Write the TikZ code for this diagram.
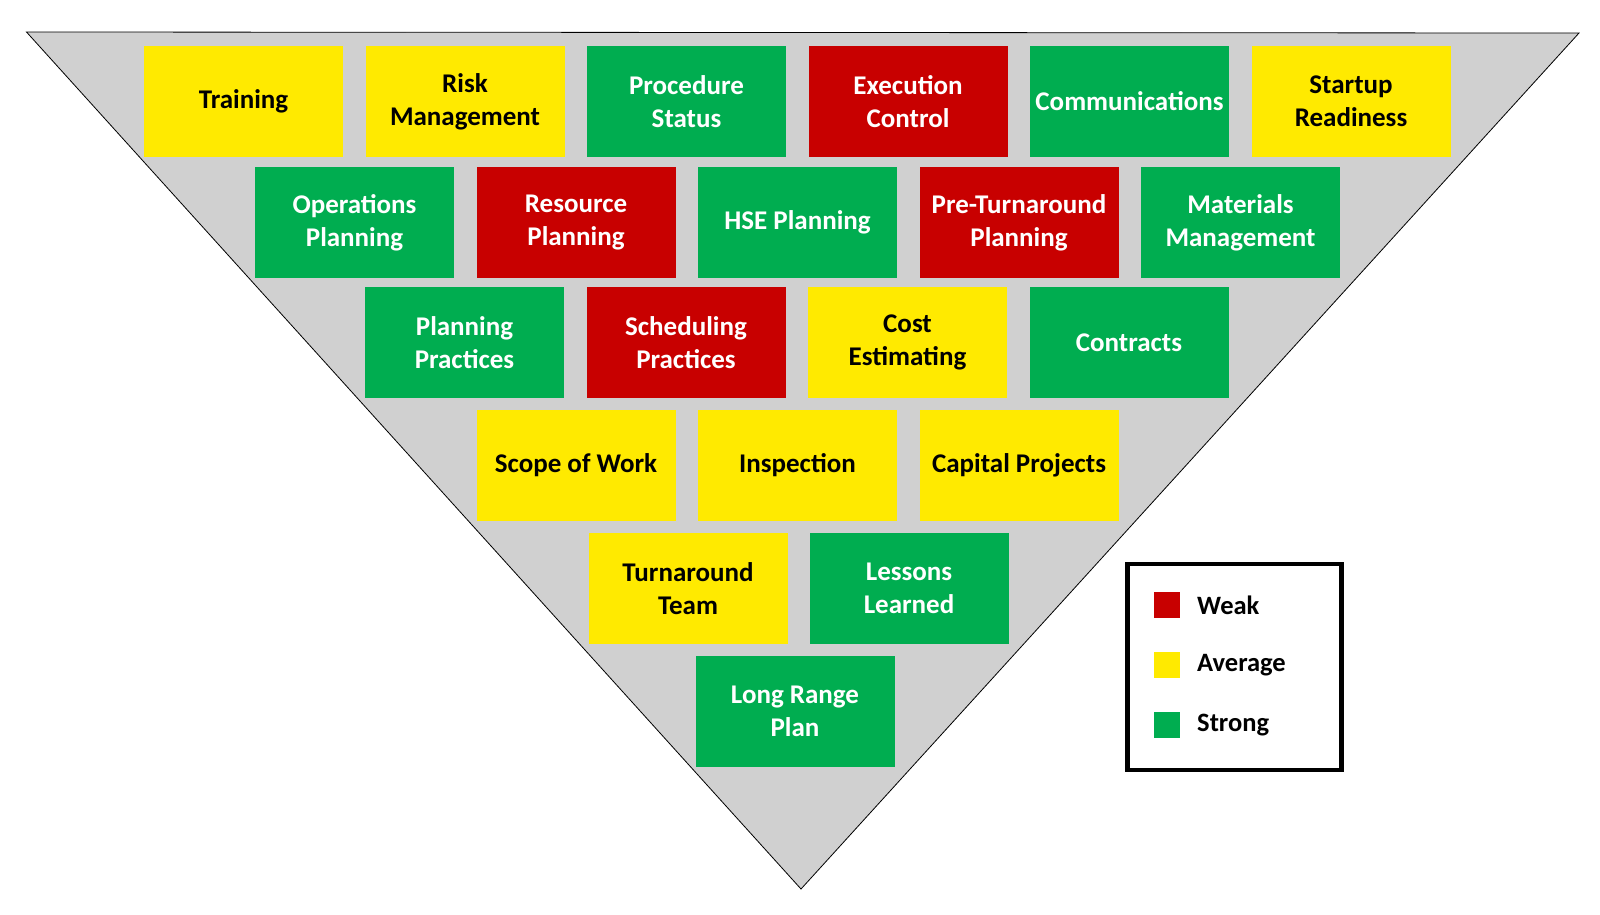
\documentclass[tikz,border=0pt]{standalone}
\usepackage{fontspec}
\setmainfont{Carlito}
\usetikzlibrary{positioning}
\definecolor{weakred}{RGB}{200,0,0}
\definecolor{avgyellow}{RGB}{255,234,0}
\definecolor{stronggreen}{RGB}{0,173,80}
\definecolor{trigray}{RGB}{208,208,208}
\tikzset{
  area/.style={minimum width=199pt,minimum height=111pt,inner sep=0pt,align=center,
    font=\fontsize{27}{33}\selectfont\bfseries},
  weak/.style={area,fill=weakred,text=white},
  average/.style={area,fill=avgyellow,text=black},
  strong/.style={area,fill=stronggreen,text=white},
  keysq/.style={minimum size=26pt,inner sep=0pt},
  keytxt/.style={anchor=west,inner sep=0pt,font=\fontsize{26.5}{32}\selectfont\bfseries}
}
\begin{document}
\begin{tikzpicture}[x=1pt,y=-1pt]
			\useasboundingbox (0,0) rectangle (1600,914);
			\draw [fill=trigray,line width=0.8pt] (26.5,32) -- (1579,33) -- (801,889) -- cycle;
			\node [average] (training) at (243.5,101.5) {Training};
			\node [average] (risk) at (465,101.5) {Risk\\Management};
			\node [strong] (procedure) at (686.5,101.5) {Procedure\\Status};
			\node [weak] (execution) at (908,101.5) {Execution\\Control};
			\node [strong] (comms) at (1129.5,101.5) {Communications};
			\node [average] (startup) at (1351,101.5) {Startup\\Readiness};
			\node [strong] (operations) at (354.5,222.5) {Operations\\Planning};
			\node [weak] (resource) at (576,222.5) {Resource\\Planning};
			\node [strong] (hse) at (797.5,222.5) {HSE Planning};
			\node [weak] (preta) at (1019,222.5) {Pre-Turnaround\\Planning};
			\node [strong] (materials) at (1240.5,222.5) {Materials\\Management};
			\node [strong] (planprac) at (464.5,342.7) {Planning\\Practices};
			\node [weak] (schedprac) at (686,342.7) {Scheduling\\Practices};
			\node [average] (cost) at (907.5,342.7) {Cost\\Estimating};
			\node [strong] (contracts) at (1129,342.7) {Contracts};
			\node [average] (scope) at (576,465) {Scope of Work};
			\node [average] (inspection) at (797.5,465) {Inspection};
			\node [average] (capital) at (1019,465) {Capital Projects};
			\node [average] (tateam) at (688,588.6) {Turnaround\\Team};
			\node [strong] (lessons) at (909,588.6) {Lessons\\Learned};
			\node [strong] (longrange) at (795,711.7) {Long Range\\Plan};
			\node [draw,line width=4.5pt,minimum width=214pt,minimum height=206pt,inner sep=0pt] (legend) at (1234.5,667) {};
			\node [keysq,fill=weakred] (kweak) at (1166.5,604.5) {};
			\node [keysq,fill=avgyellow] (kavg) at (1166.5,664.5) {};
			\node [keysq,fill=stronggreen] (kstrong) at (1166.5,725) {};
			\node [keytxt] (tweak) at (1197,605) {Weak};
			\node [keytxt] (tavg) at (1197,665) {Average};
			\node [keytxt] (tstrong) at (1197,725.5) {Strong};
		\end{tikzpicture}
\end{document}
